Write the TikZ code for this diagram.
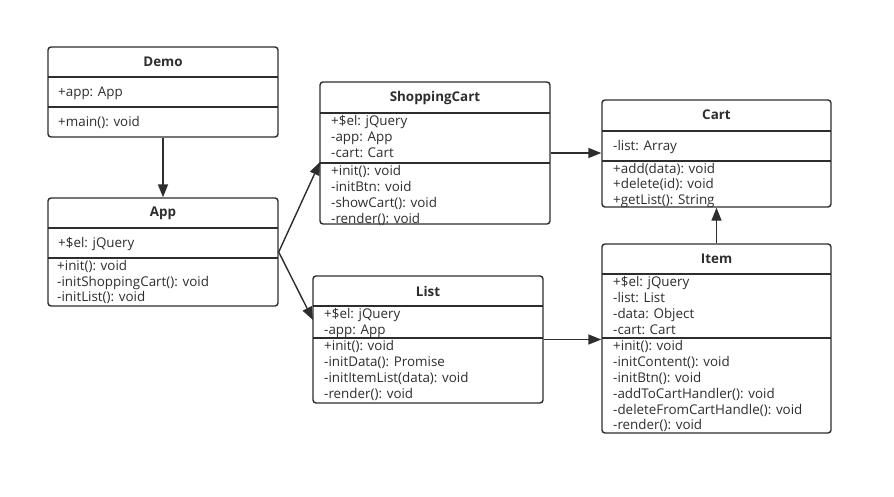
\documentclass[tikz,border=0pt]{standalone}
\usepackage{fontspec}
\setmainfont{Open Sans}
\usetikzlibrary{arrows.meta}
\definecolor{umlgray}{RGB}{45,45,45}
\tikzset{
  umlbox/.style={draw=umlgray, line width=1.4pt, rounded corners=3pt, inner sep=0pt},
  umltitle/.style={font=\fontsize{13.4}{15}\selectfont\bfseries, text=umlgray},
  umltext/.style={anchor=west, inner sep=0pt, font=\fontsize{13.4}{15}\selectfont, text=umlgray, text height=9.5pt, text depth=3.5pt},
  umlsep/.style={draw=umlgray, line width=1.4pt},
  umlarrow/.style={draw=umlgray, line width=1.4pt, -{Triangle[length=13pt,width=10pt]}}
}
\begin{document}
\begin{tikzpicture}[x=1pt,y=-1pt]
\useasboundingbox (0,0) rectangle (894,496);

% Demo
\node[umlbox, minimum width=230, minimum height=90] (demo) at (163,92) {};
\node[umltitle] (demo-title) at (163,62) {Demo};
\draw[umlsep] (48,77) -- (278,77);
\draw[umlsep] (48,107) -- (278,107);
\node[umltext] (demo-a1) at (58,93) {+app: App};
\node[umltext] (demo-m1) at (58,123) {+main(): void};

% App
\node[umlbox, minimum width=230, minimum height=108] (app) at (163,252) {};
\node[umltitle] (app-title) at (163,213) {App};
\draw[umlsep] (48,228) -- (278,228);
\draw[umlsep] (48,258) -- (278,258);
\node[umltext] (app-a1) at (58,244) {+\$el: jQuery};
\foreach \t [count=\i] in {+init(): void, -initShoppingCart(): void, -initList(): void}
  \node[umltext] (app-m\i) at (57,252+15.6*\i) {\t};

% ShoppingCart
\node[umlbox, minimum width=230, minimum height=142] (sc) at (435,153) {};
\node[umltitle] (sc-title) at (435,98) {ShoppingCart};
\draw[umlsep] (320,113) -- (550,113);
\draw[umlsep] (320,163) -- (550,163);
\foreach \t [count=\i] in {+\$el: jQuery, -app: App, -cart: Cart}
  \node[umltext] (sc-a\i) at (331,107+15.8*\i) {\t};
\foreach \t [count=\i] in {+init(): void, -initBtn: void, -showCart(): void, -render(): void}
  \node[umltext] (sc-m\i) at (331,157+15.8*\i) {\t};

% List
\node[umlbox, minimum width=230, minimum height=127] (list) at (428,339.5) {};
\node[umltitle] (list-title) at (428,291) {List};
\draw[umlsep] (313,306) -- (543,306);
\draw[umlsep] (313,338) -- (543,338);
\foreach \t [count=\i] in {+\$el: jQuery, -app: App}
  \node[umltext] (list-a\i) at (324,299+16.2*\i) {\t};
\foreach \t [count=\i] in {+init(): void, -initData(): Promise, -initItemList(data): void, -render(): void}
  \node[umltext] (list-m\i) at (324,332+15.8*\i) {\t};

% Cart
\node[umlbox, minimum width=229, minimum height=107] (cart) at (716.5,153.5) {};
\node[umltitle] (cart-title) at (716.5,115) {Cart};
\draw[umlsep] (602,131) -- (831,131);
\draw[umlsep] (602,161) -- (831,161);
\node[umltext] (cart-a1) at (613,147) {-list: Array};
\foreach \t [count=\i] in {+add(data): void, +delete(id): void, +getList(): String}
  \node[umltext] (cart-m\i) at (613,154.5+15.6*\i) {\t};

% Item
\node[umlbox, minimum width=229, minimum height=189] (item) at (716.5,338.5) {};
\node[umltitle] (item-title) at (716.5,259) {Item};
\draw[umlsep] (602,274) -- (831,274);
\draw[umlsep] (602,338) -- (831,338);
\foreach \t [count=\i] in {+\$el: jQuery, -list: List, -data: Object, -cart: Cart}
  \node[umltext] (item-a\i) at (613,268+15.8*\i) {\t};
\foreach \t [count=\i] in {+init(): void, -initContent(): void, -initBtn(): void, -addToCartHandler(): void, -deleteFromCartHandle(): void, -render(): void}
  \node[umltext] (item-m\i) at (613,332+15.8*\i) {\t};

% connectors
\coordinate (sc-in) at (320,162);
\coordinate (list-in) at (313,320);
\draw[umlarrow] (demo.south) -- (app.north);
\draw[umlarrow] (app.east) -- (sc-in);
\draw[umlarrow] (app.east) -- (list-in);
\draw[umlarrow] (sc.east) -- (sc.east -| cart.west);
\draw[umlarrow] (list.east) -- (list.east -| item.west);
\draw[umlarrow] (item.north) -- (cart.south);
\end{tikzpicture}
\end{document}
